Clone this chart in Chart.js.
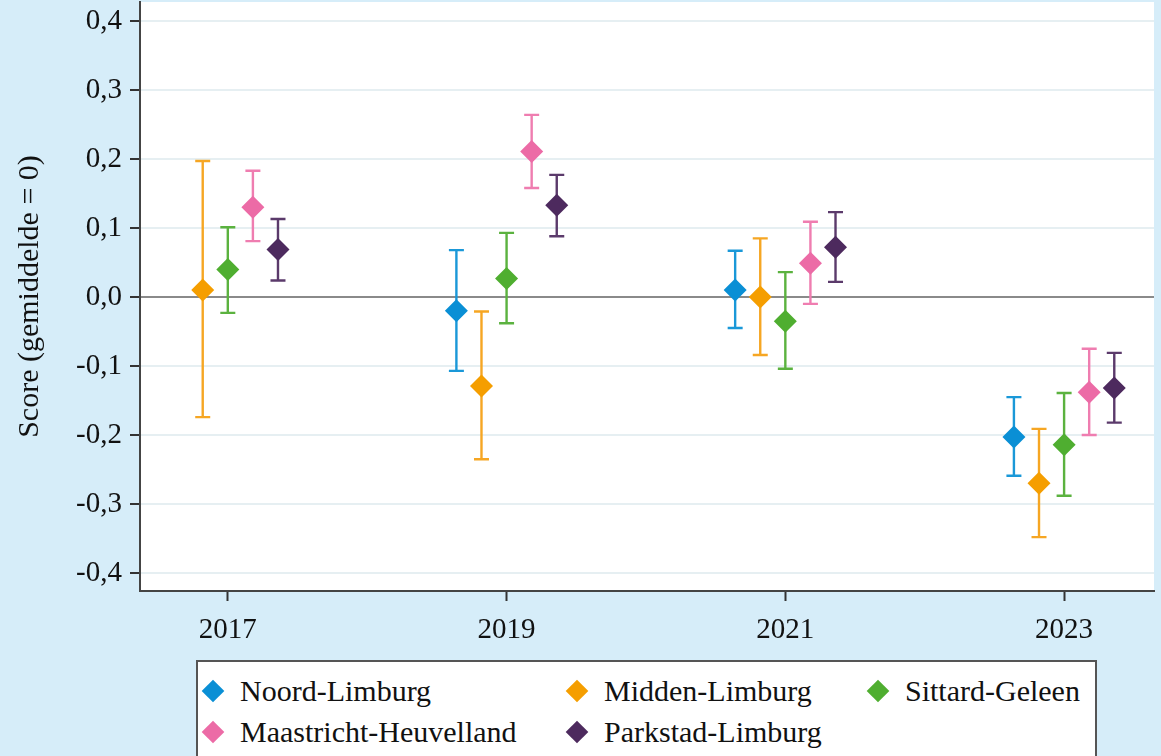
<!DOCTYPE html>
<html>
<head>
<meta charset="utf-8">
<script src="https://cdn.jsdelivr.net/npm/chart.js@4"></script>
<style>
  body { margin: 0; background: #d6edf9; }
  #wrap { position: relative; width: 1161px; height: 756px; overflow: hidden; }
  #legend {
    position: absolute; left: 196px; top: 660px; width: 901px; height: 120px;
    background: #fff; border: 2px solid #555; box-sizing: border-box;
    padding: 8px 0 0 4px;
    display: grid; grid-template-columns: 364px 301px auto; grid-auto-rows: 41px;
    font-family: "Liberation Serif", serif; font-size: 30px; color: #111;
  }
  .item { display: flex; align-items: center; white-space: nowrap; }
  .mark { width: 22px; height: 22px; position: relative; margin-right: 16px; flex: none; }
  .mark::before {
    content: ""; position: absolute; left: 3px; top: 3px; width: 16px; height: 16px;
    background: var(--c); transform: rotate(45deg);
  }
</style>
</head>
<body>
<div id="wrap">
  <canvas id="chart" width="1161" height="756"></canvas>
  <div id="legend"></div>
</div>
<script>
// Waves and regions
const years = [2017, 2019, 2021, 2023];
const regions = ['Noord-Limburg', 'Midden-Limburg', 'Sittard-Geleen', 'Maastricht-Heuvelland', 'Parkstad-Limburg'];
const yTicks = [-0.4, -0.3, -0.2, -0.1, 0, 0.1, 0.2, 0.3, 0.4];

// score and 95% interval per region (null = no measurement)
const noordScore = [null, -0.020, 0.010, -0.203];
const noordLow   = [null, -0.107, -0.045, -0.259];
const noordHigh  = [null, 0.068, 0.067, -0.145];

const middenScore = [0.010, -0.129, 0.000, -0.270];
const middenLow   = [-0.174, -0.235, -0.084, -0.348];
const middenHigh  = [0.197, -0.021, 0.085, -0.191];

const sittardScore = [0.040, 0.027, -0.035, -0.214];
const sittardLow   = [-0.023, -0.038, -0.104, -0.288];
const sittardHigh  = [0.101, 0.093, 0.036, -0.139];

const maastrichtScore = [0.130, 0.211, 0.049, -0.138];
const maastrichtLow   = [0.081, 0.158, -0.010, -0.200];
const maastrichtHigh  = [0.183, 0.264, 0.109, -0.075];

const parkstadScore = [0.069, 0.133, 0.072, -0.132];
const parkstadLow   = [0.024, 0.088, 0.022, -0.182];
const parkstadHigh  = [0.113, 0.177, 0.123, -0.081];

const scores = [noordScore, middenScore, sittardScore, maastrichtScore, parkstadScore];
const lows = [noordLow, middenLow, sittardLow, maastrichtLow, parkstadLow];
const highs = [noordHigh, middenHigh, sittardHigh, maastrichtHigh, parkstadHigh];

const colors = ['#0a8fd5', '#f59e00', '#4fae30', '#ec6ba6', '#4d2a5e'];
const barColors = ['#1a98d8', '#f6a623', '#5bb23f', '#ef7db0', '#5b3a6b'];
const dodge = 0.18; // horizontal spread of the regions within a year

const datasets = regions.map((name, i) => ({
  label: name,
  data: years
    .map((yr, j) => ({ x: yr + (i - 2) * dodge, y: scores[i][j], low: lows[i][j], high: highs[i][j] }))
    .filter(p => p.y !== null),
  pointStyle: 'rectRot',
  pointRadius: 11.5,
  pointHoverRadius: 11.5,
  backgroundColor: colors[i],
  borderColor: colors[i],
  borderWidth: 0,
  barColor: barColors[i]
}));

const plotBg = {
  id: 'plotBg',
  beforeDraw(chart) {
    const { ctx, chartArea: a } = chart;
    ctx.save();
    ctx.fillStyle = '#ffffff';
    ctx.fillRect(a.left, a.top, a.right - a.left, a.bottom - a.top);
    ctx.restore();
  }
};

const errorBars = {
  id: 'errorBars',
  beforeDatasetsDraw(chart) {
    const { ctx, scales: { x, y } } = chart;
    ctx.save();
    ctx.lineWidth = 2.4;
    chart.data.datasets.forEach(ds => {
      ctx.strokeStyle = ds.barColor;
      ds.data.forEach(p => {
        const px = x.getPixelForValue(p.x);
        const top = y.getPixelForValue(p.high);
        const bot = y.getPixelForValue(p.low);
        ctx.beginPath();
        ctx.moveTo(px, top); ctx.lineTo(px, bot);
        ctx.moveTo(px - 7.5, top); ctx.lineTo(px + 7.5, top);
        ctx.moveTo(px - 7.5, bot); ctx.lineTo(px + 7.5, bot);
        ctx.stroke();
      });
    });
    ctx.restore();
  }
};

const noPad = s => { s.paddingTop = 0; s.paddingBottom = 0; s.paddingLeft = 0; s.paddingRight = 0; };

const chart = new Chart(document.getElementById('chart').getContext('2d'), {
  type: 'scatter',
  data: { datasets: datasets },
  options: {
    responsive: false,
    animation: false,
    layout: { autoPadding: false, padding: { left: 0, top: 2, right: 7, bottom: 0 } },
    plugins: { legend: { display: false }, tooltip: { enabled: false } },
    scales: {
      x: {
        type: 'linear',
        min: 2016.37,
        max: 2023.645,
        afterFit: s => { s.height = 165; noPad(s); },
        afterBuildTicks: s => { s.ticks = years.map(v => ({ value: v })); },
        grid: { drawOnChartArea: false, drawTicks: true, tickLength: 10, tickColor: '#333', tickWidth: 2 },
        border: { display: true, color: '#444', width: 2 },
        ticks: {
          padding: 12,
          color: '#111',
          font: { family: 'Liberation Serif', size: 29 },
          callback: v => String(v)
        }
      },
      y: {
        min: -0.426,
        max: 0.4275,
        afterFit: s => { s.width = 140; noPad(s); },
        afterBuildTicks: s => { s.ticks = yTicks.map(v => ({ value: v })); },
        grid: {
          color: c => (c.tick && c.tick.value === 0 ? '#8a8a8a' : '#e6eff2'),
          lineWidth: 2,
          drawTicks: true,
          tickLength: 10,
          tickColor: '#333',
          tickWidth: 2
        },
        border: { display: true, color: '#444', width: 2 },
        ticks: {
          padding: 8,
          color: '#111',
          font: { family: 'Liberation Serif', size: 29 },
          callback: v => v.toFixed(1).replace('.', ',')
        },
        title: {
          display: true,
          text: 'Score (gemiddelde = 0)',
          color: '#111',
          font: { family: 'Liberation Serif', size: 30 },
          padding: { top: 12, bottom: 0 }
        }
      }
    }
  },
  plugins: [plotBg, errorBars]
});

// legend in three columns, built from the datasets
const legend = document.getElementById('legend');
chart.data.datasets.forEach(ds => {
  const item = document.createElement('div');
  item.className = 'item';
  const mark = document.createElement('span');
  mark.className = 'mark';
  mark.style.setProperty('--c', ds.backgroundColor);
  const txt = document.createElement('span');
  txt.textContent = ds.label;
  item.appendChild(mark);
  item.appendChild(txt);
  legend.appendChild(item);
});
</script>
</body>
</html>
